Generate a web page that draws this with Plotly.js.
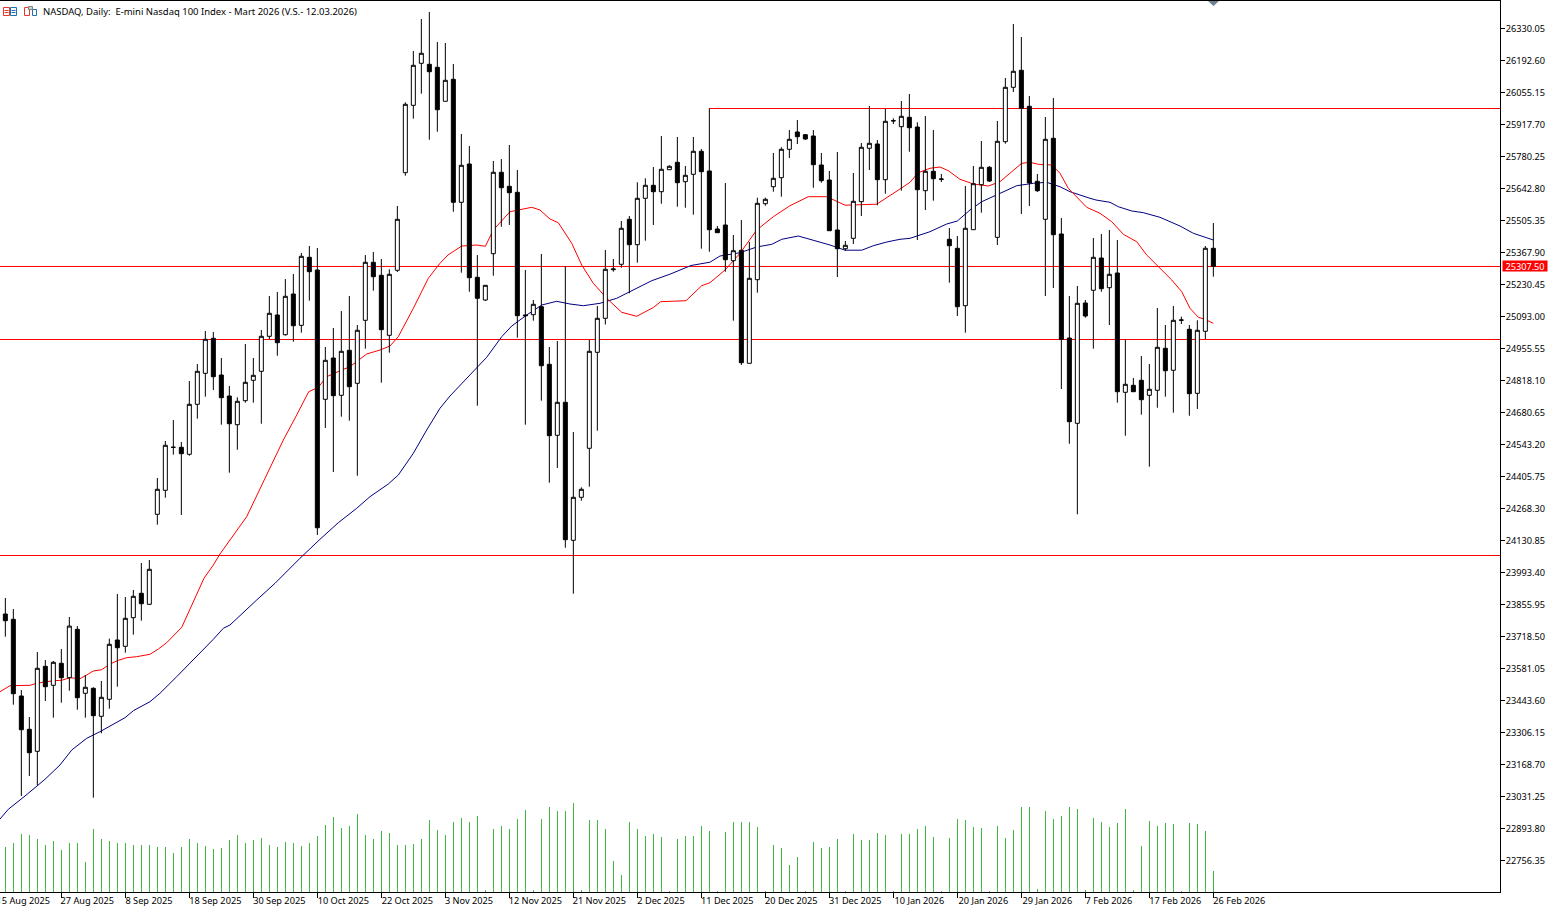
<!DOCTYPE html>
<html><head><meta charset="utf-8">
<script src="https://cdn.plot.ly/plotly-3.0.1.min.js"></script>
<style>html,body{margin:0;padding:0;background:#fff;overflow:hidden}#c{width:1549px;height:907px}</style>
</head><body><div id="c"></div>
<script>
const chartTitle = "NASDAQ, Daily:  E-mini Nasdaq 100 Index - Mart 2026 (V.S.- 12.03.2026)";
const high = [23883.1,23835.8,23487.9,23372,23651.2,23616.8,23612.5,23664,23801.5,23762.5,23552.4,23499.6,23526.6,23708.3,23900.3,23887.4,23917.5,24033.4,24046.3,24398.5,24557.4,24647.6,24553.1,24815.1,24888.1,25029.9,25025.6,24913.9,24793.6,24745.1,24974,24913.9,25034.1,25180.2,25197.4,25253.2,25274.7,25364.9,25394.9,25386.3,24961.1,25042.7,25115.8,25180.2,25055.6,25356.3,25369.2,25339.1,25294.9,25566.7,26012.1,26232.5,26369.9,26400,26271.1,26266.8,26176.6,25876,25824.4,25356.3,25227.4,25760,25768.6,25828.7,25721.3,25291.8,25163,25360.6,24961.1,24986.9,25309,24596.1,24358.5,24991.2,25137.2,25377.7,25339.1,25502.3,25523.8,25668.5,25685.7,25734.2,25867.4,25741.5,25863.1,25738.5,25863.1,25811.5,25986.4,25480.8,25665.5,25442.2,25506.6,25412.1,25602.4,25602.4,25794.4,25818.9,25893.1,25936.1,25876,25893.1,25794.4,25717.1,25798.7,25416.4,25708.5,25837.3,25996.2,25850.2,25983.3,25943.4,26017.7,26047.8,25926.2,25953.3,25893.1,25704.2,25472.2,25437.9,25652.6,25738.5,25845.9,25738.5,25931.8,26116.5,26348.4,26292.6,26039.2,25704.2,25949,26030.6,25515.2,25180.2,25223.1,25163,25429.3,25446.5,25463.6,25420.7,24994.2,24828,24922.5,24888.1,25128.6,25055.6,25137.2,25091.3,25055.6,25075.8,25394.9,25493.7];
const low = [23716.9,23424.8,23032.7,23118.6,23079.9,23440.7,23369,23433.4,23484.9,23403.3,23369,23025.4,23302,23407.6,23502.1,23648.2,23725.5,23785.6,23854.3,24197.9,24313.9,24498.6,24239.6,24494.3,24653.2,24747.7,24776.4,24627.4,24421.3,24520,24721.9,24721.9,24631.7,24995.5,24923.8,25009.7,24983.9,25022.6,25160,24153.7,24613.2,24424.3,24661.8,24644.6,24408.4,24953.8,25203,24807.8,24936.7,25283.3,25696.9,25941.7,26049.1,25851.5,25885.9,26016.4,25542.2,25280.3,25198.6,24709,25158.7,25267.4,25477.8,25485.1,25001.1,24627.4,25074.1,24730.5,24378.3,24441.4,24099.2,23901.6,24301,24361.1,24601.6,25057.8,25284.6,25301.7,25191.8,25323.2,25417.7,25485.1,25576.6,25721.3,25563.7,25559.4,25529.4,25383.3,25370.5,25452.1,25284.6,25074.1,24883.8,24891.1,25194.4,25568,25628.2,25606.7,25772.9,25833,25850.2,25645.3,25666.8,25459.4,25261.8,25374.7,25403.5,25523.8,25721.3,25569.7,25619.6,25918.9,25632.4,25800,25420.7,25549.5,25589.5,25669.8,25237.3,25094.3,25022.6,25463.6,25538,25669.8,25399.2,25834.3,26056.4,25532.4,25566.7,25626.9,25180.2,25214.5,24780.7,24545.8,24242.6,25087,24953.8,25198.6,25055.6,24721.9,24580.2,24769.1,24670.4,24447.1,24700.5,24747.7,24679,25059.9,24666.1,24694.8,24995.5,25263.1];
const open = [23814.4,23791.6,23462.2,23319.2,23224.7,23589.7,23508.1,23602.6,23540.8,23748.6,23473.8,23495.3,23375,23448,23702.7,23675.6,23798.5,23903.3,23856,24242.6,24345.7,24530.4,24530.4,24500.3,24715,24848.2,24998.5,24840.9,24750.7,24627.4,24730.5,24818.1,24856.8,25007.1,25098.6,25014,25188.8,25054.3,25346.4,25291.8,24736.5,24913.9,24753.7,24947,24805.2,25075.8,25324.9,25269.1,25011.4,25290.6,25709.8,25999.2,26179.6,26175.3,26162.5,26016.4,26110.9,25582.6,25747.1,25260.5,25163,25361.9,25711.5,25651.3,25625.6,25098.6,25099.9,25134.2,24886.8,24581.9,24723.6,24130.9,24315.6,24526.1,24938.4,25084.4,25293.2,25316.3,25509.6,25400.5,25599.8,25655.6,25628.2,25722.6,25754.4,25671.1,25702.9,25801.7,25717.1,25467.9,25485.1,25331.8,25376.5,24891.1,25250.2,25576.6,25649.6,25688.3,25810.3,25884.6,25873,25867.4,25742.8,25678.4,25463.6,25383.3,25428,25585.2,25814.6,25833,25679.7,25932,25907.3,25947.7,25906,25632.4,25715.8,25681,25423.7,25385.1,25138.5,25464.9,25658.2,25732.9,25432.3,25842.9,26076.5,26149.6,25994.9,25672.8,25509.6,25857.5,25446.5,24999.8,24633.4,25150.1,25204.7,25343.4,25215.8,25279,24766.6,24796.6,24818.1,24753.7,24775.2,24955.6,24861.1,25076,25037.2,24762.3,25028.6,25385.1];
const close = [23785.6,23472.1,23317.4,23218.7,23581.2,23502.1,23606.9,23540.8,23762.5,23454.9,23499.6,23377.6,23456.6,23684.2,23669.6,23795.9,23890.4,23858.6,24006.4,24350,24538.9,24530.4,24502.9,24715,24856.8,24994.2,24833.6,24743.4,24631.7,24727.9,24809.5,24839.6,25007.1,25105.9,24979.6,25178.9,25052.6,25350.7,25284.6,24185,24904,24752,24942.7,24790.6,25032.9,25324.9,25263.1,25035.5,25273.4,25509.6,26003.5,26171,26222.6,26143.5,25980.3,26106.6,25582.6,25741.5,25258.8,25170.3,25226.1,25711.5,25645.3,25623.8,25095.6,25095.6,25144.5,24880.8,24580.2,24723.6,24133.5,24315.6,24350,24942.7,25084.4,25294.9,25296.1,25471,25400.5,25599.8,25655.6,25628.2,25724.4,25737.2,25666.8,25698.6,25801.7,25714.1,25464.9,25452.1,25336.1,25374.7,24893.7,25256.2,25578.3,25595.5,25685.7,25810.3,25853.2,25864.4,25854.5,25744.1,25675.4,25460.6,25383.3,25397.9,25586.9,25818.9,25836,25679.7,25930.5,25933.1,25952,25903,25636.7,25715.8,25684,25682.7,25396.2,25134.2,25471,25662.5,25732.9,25674.1,25844.6,26076.5,26145.3,25986.4,25665.5,25632.4,25853.2,25443.5,24994.2,24640.3,25148.8,25094.3,25346.4,25211.5,25273.4,24769.1,24800.9,24769.1,24734.8,24779.5,24959.8,24859.3,25075.8,25077.1,24760.6,25032.9,25385.1,25307.5];
const volume = [135,147,174,171,159,141,153,126,147,147,90,189,159,153,147,147,141,141,141,135,135,117,135,159,147,138,129,132,156,171,147,156,162,141,135,150,147,138,147,168,201,225,192,198,234,171,159,183,177,141,141,144,159,216,186,171,210,222,210,228,6,189,
198,189,219,246,6,219,255,243,243,267,6,216,216,189,93,51,210,189,168,174,165,3,159,168,168,198,183,2,180,210,210,210,195,3,141,132,81,105,3,150,132,135,159,2,174,156,156,177,171,3,
174,174,189,198,165,3,162,219,216,195,192,3,198,162,186,255,255,9,243,219,228,255,249,6,222,210,195,207,249,6,138,213,198,207,204,3,207,204,183,63];
const redBar = [-0.67,0.58,3.08,3.92,6,7.04,8.08,9.33,10.17,11,12.04,13.08,14.12,15.17,16.42,18.08,19.12,20.17,22.05,22.87,23.92,24.83,26,26.83,28.08,30.17,32.46,34.75,36.42,37.92,39.12,40.17,42.05,43.08,45.17,46.83,48.08,49.12,51,52.87,54.33,55.33,57.05,58.92,60,61,63.08,64.33,65.8,66.83,68.08,69.12,70.8,72.05,73.5,75.17,77.05,78.92,81,81.92,85.08,87.05,88.08,89.96,91.83,93.92,96,98.08,100.37,102.67,104.96,108.92,110.58,111.83,113.08,114.12,115.58,116.83,117.87,119.33,121,122.87,124.33,126,127.04,128.08,129.12,130.8,131.83,132.87,134.25,135.17,136.83,138.3,139.75,141.42,142.67,144.12,145.8,147.05,148.08,149.12,149.96,151];
const redMA = [23480.6,23506.5,23508.1,23516.7,23527.9,23529.6,23540.8,23536.5,23552.4,23569.6,23575.1,23599.6,23615.5,23626.7,23631,23641.3,23664,23691.1,23757.2,23817.4,23896,23967.7,24024.8,24072.1,24132.2,24232.3,24397.2,24561.7,24669.1,24769.1,24788,24833.6,24862.3,24876.5,24931.1,24948.2,24965.4,25005.4,25127.4,25256.2,25320.6,25356.3,25394.9,25399.2,25393.6,25463.6,25542.2,25549.5,25561.1,25549.5,25510.9,25495,25406.5,25313.3,25234.7,25170.3,25110.2,25093,25130.8,25155.7,25160,25224.4,25237.3,25291.8,25363.6,25463.6,25520.8,25568,25606.7,25606.7,25570.2,25574.5,25609.7,25639.7,25668.5,25709.8,25728.7,25734.2,25718.4,25681.4,25661.2,25652.6,25671.1,25721.3,25750.1,25754.4,25745.8,25742.8,25707.2,25642.8,25592.5,25561.1,25535.4,25499.3,25445.2,25413.4,25356.3,25306,25248.9,25198.6,25127.4,25088.7,25080.1,25062.9];
const blueBar = [-0.67,0.37,2.46,4.96,6.83,8.3,10.17,11.83,14.96,16,18.08,19.33,21.42,23.5,26,27.25,28.08,31.42,33.71,36.83,38.08,39.33,41.62,43.92,45.58,47.87,49.12,51,52.67,54.33,55.58,58.08,60.17,62.05,63.3,65.17,67.05,68.92,70.58,72.25,74.33,76.42,78.5,80.8,83.08,85.7,88.08,89.33,91.83,93.92,95.8,97.05,99.12,101,103.08,104.96,107.05,108.5,110.17,111.83,113.08,115.58,117.67,119,120.58,122.05,124.33,126.42,128.5,130.17,131.83,133.08,135.58,136.33,138.08,139.12,140.8,142.25,144.33,146.83,148.5,150.17,151];
const blueMA = [22933.9,22975.6,23032.7,23104.5,23165.8,23230.2,23280.5,23308.9,23369,23399.1,23437.7,23473.8,23545.1,23616.8,23705.7,23753,23767.1,23874.5,23946.2,24053.6,24096.5,24135.2,24206.5,24268.4,24318.2,24372.7,24411.4,24504.6,24604.6,24697.9,24750.7,24840.9,24916.9,25005.4,25051.3,25098.6,25141.5,25157.4,25145.8,25138.5,25148.8,25170.3,25205.9,25245.9,25273.8,25311.2,25325.4,25352,25366.1,25390.6,25402.2,25423.7,25437.9,25420.7,25399.2,25376.9,25376.9,25396.2,25412.1,25423.7,25428,25456.4,25489.4,25502.3,25549.5,25585.2,25621.3,25653.9,25664.2,25668.5,25649.6,25628.2,25599.8,25592.5,25582.6,25563.7,25545.3,25538,25518.2,25480.8,25449.5,25432.3,25420.7];
const priceTicks = [26330.05,26192.60,26055.15,25917.70,25780.25,25642.80,25505.35,25367.90,25230.45,25093.00,24955.55,24818.10,24680.65,24543.20,24405.75,24268.30,24130.85,23993.40,23855.95,23718.50,23581.05,23443.60,23306.15,23168.70,23031.25,22893.80,22756.35];
const dateBars = [-1,7,15,23,31,39,47,55,63,71,79,87,95,103,111,119,127,135,143,151];
const dateLabels = ["15 Aug 2025","27 Aug 2025","8 Sep 2025","18 Sep 2025","30 Sep 2025","10 Oct 2025","22 Oct 2025","3 Nov 2025","12 Nov 2025","21 Nov 2025","2 Dec 2025","11 Dec 2025","20 Dec 2025","31 Dec 2025","10 Jan 2026","20 Jan 2026","29 Jan 2026","7 Feb 2026","17 Feb 2026","26 Feb 2026"];
const levels = [25307.0, 24993.3, 24065.6];
const upperLevel = 25985.5, upperLevelFrom = 88;
const lastPrice = 25307.5;

const W = 1549, H = 907, PW = 1500, PH = 891;
const xRange = [-0.6667, 186.83], yRange = [26447.2, 22620.4];
const fontName = "Noto Sans";
const tickFontSize = 9.2, titleFontSize = 9.47;
const bars = open.map((_, i) => i);

const px = x => x / PW, py = y => (892 - y) / PH;
const rect = (x0, y0, x1, y1, line, fill) => ({type:'rect', xref:'paper', yref:'paper', x0:px(x0), x1:px(x1), y0:py(y0), y1:py(y1), line:{color:line, width:1}, fillcolor:fill||'rgba(0,0,0,0)', layer:'above'});
const seg = (x0, y0, x1, y1, c) => ({type:'line', xref:'paper', yref:'paper', x0:px(x0), x1:px(x1), y0:py(y0), y1:py(y1), line:{color:c, width:1}, layer:'above'});

const traces = [];
levels.forEach(v => traces.push({type:'scatter', mode:'lines', x:xRange, y:[v, v], line:{color:'#ff0000', width:1}, hoverinfo:'skip', showlegend:false}));
traces.push({type:'scatter', mode:'lines', x:[upperLevelFrom, xRange[1]], y:[upperLevel, upperLevel], line:{color:'#ff0000', width:1}, hoverinfo:'skip', showlegend:false});
traces.push({type:'scatter', mode:'lines', x:blueBar, y:blueMA, line:{color:'#000080', width:1}, hoverinfo:'skip', showlegend:false});
traces.push({type:'scatter', mode:'lines', x:redBar, y:redMA, line:{color:'#ff0000', width:1}, hoverinfo:'skip', showlegend:false});
traces.push({type:'bar', x:bars, y:volume, xaxis:'x2', yaxis:'y2', width:0.125, marker:{color:'#3fb83f', line:{width:0}}, hoverinfo:'skip', showlegend:false});
traces.push({type:'candlestick', x:bars, open:open, high:high, low:low, close:close, xaxis:'x2', yaxis:'y3', whiskerwidth:0,
  increasing:{line:{color:'#000000', width:1}, fillcolor:'#ffffff'},
  decreasing:{line:{color:'#000000', width:1}, fillcolor:'#000000'},
  hoverinfo:'skip', showlegend:false});

const layout = {
  width:W, height:H, autosize:false, showlegend:false, hovermode:false,
  paper_bgcolor:'#ffffff', plot_bgcolor:'#ffffff',
  margin:{l:0, r:W-PW, t:1, b:15, pad:0},
  boxgap:0.5, boxgroupgap:0,
  bargap:0,
  font:{family:fontName, size:tickFontSize, color:'#000000'},
  xaxis:{type:'linear', range:xRange, showgrid:false, zeroline:false, showline:true, linecolor:'#000000', linewidth:1, mirror:true,
    tickmode:'array', tickvals:dateBars, ticktext:dateBars.map(()=>''), ticks:'outside', ticklen:5, tickwidth:1, tickcolor:'#000000',
    rangeslider:{visible:false}, fixedrange:true},
  xaxis2:{type:'linear', overlaying:'x', anchor:'y', side:'bottom', range:xRange, showgrid:false, zeroline:false, showline:false,
    tickmode:'array', tickvals:dateBars.map((v,i)=>v+dateLabels[i].length*0.295), ticktext:dateLabels, ticks:'', tickangle:0,
    ticklabeloverflow:'allow', ticklabelstandoff:2,
    tickfont:{family:fontName, size:tickFontSize, color:'#000000'}, rangeslider:{visible:false}, fixedrange:true},
  yaxis:{type:'linear', range:yRange.slice().reverse(), side:'right', showgrid:false, zeroline:false, showline:true, linecolor:'#000000', linewidth:1,
    tickmode:'array', tickvals:priceTicks, ticktext:priceTicks.map(v=>v.toFixed(2)), ticks:'outside', ticklen:4, tickwidth:1, tickcolor:'#000000',
    ticklabelstandoff:-1, ticklabeloverflow:'allow',
    tickfont:{family:fontName, size:tickFontSize, color:'#000000'}, fixedrange:true},
  yaxis2:{overlaying:'y', range:[0, 2673], visible:false, fixedrange:true},
  yaxis3:{overlaying:'y', range:yRange.slice().reverse(), visible:false, fixedrange:true},
  annotations:[
    {xref:'paper', yref:'paper', x:px(41), y:py(11.5), xanchor:'left', yanchor:'middle', text:chartTitle, showarrow:false, font:{family:fontName, size:titleFontSize, color:'#000000'}},
    {xref:'paper', yref:'y', x:px(1525.5), y:lastPrice, xanchor:'center', yanchor:'middle', text:lastPrice.toFixed(2), showarrow:false, bgcolor:'#ff0000', width:44, height:10, borderpad:0, font:{family:fontName, size:tickFontSize, color:'#ffffff'}}
  ],
  shapes:[
    rect(3.5,7.5,9.5,15.5,'#e8392c','#ffffff'), rect(10.5,7.5,16.5,15.5,'#1f6fb5','#ffffff'),
    seg(4.5,10.5,8.5,10.5,'#e8392c'), seg(4.5,12.5,8.5,12.5,'#e8392c'), seg(11.5,10.5,15.5,10.5,'#1f6fb5'), seg(11.5,12.5,15.5,12.5,'#1f6fb5'),
    rect(24.5,7.5,29.5,15.5,'#e8392c','#ffffff'), rect(32.5,9.5,36.5,15.5,'#1f6fb5','#ffffff'), rect(28.5,6.5,32.5,9.5,'#808080','#d0d0d0'),
    {type:'path', xref:'paper', yref:'paper', path:`M ${px(1208)} ${py(1)} L ${px(1219)} ${py(1)} L ${px(1213.5)} ${py(6)} Z`, fillcolor:'#6f7f8f', line:{width:0}, layer:'above'}
  ]
};
Plotly.newPlot('c', traces, layout, {staticPlot:true, displayModeBar:false});
</script></body></html>
